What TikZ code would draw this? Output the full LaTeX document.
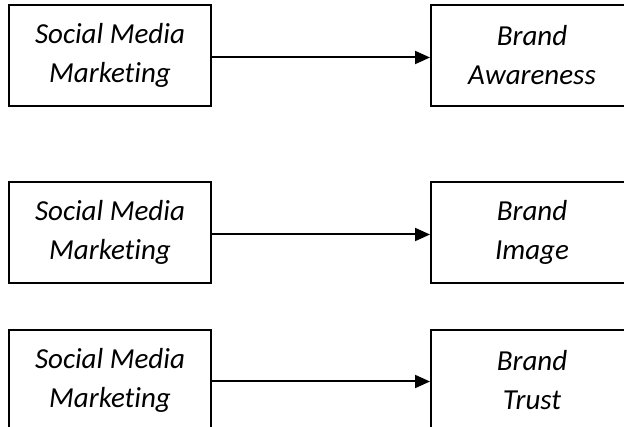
\documentclass[tikz,border=0pt]{standalone}
\usepackage{fontspec}
\setmainfont{Carlito}[Ligatures=NoCommon]
\usetikzlibrary{arrows.meta}
\begin{document}
\begin{tikzpicture}[x=1pt,y=-1pt,
  box/.style={draw, line width=2pt, minimum width=202pt, minimum height=101pt,
    inner sep=0pt, align=center, font=\fontsize{29}{39}\selectfont\itshape},
  link/.style={line width=2pt, -{Triangle[length=15pt,width=13pt]}}]
\useasboundingbox (0,0) rectangle (624,427);
\clip (0,0) rectangle (624,427);
\node[box] (l1) at (110,55.5) {Social Media\\Marketing};
\node[box] (r1) at (532,55.5) {Brand\\Awareness};
\node[box] (l2) at (110,232.5) {Social Media\\Marketing};
\node[box] (r2) at (532,232.5) {Brand\\Image};
\node[box] (l3) at (110,380.5) {Social Media\\Marketing};
\node[box] (r3) at (532,380.5) {Brand\\Trust};
\draw[link] ([yshift=-2pt]l1.east) -- ([yshift=-2pt]r1.west);
\draw[link] ([yshift=-2pt]l2.east) -- ([yshift=-2pt]r2.west);
\draw[link] ([yshift=-1pt]l3.east) -- ([yshift=-1pt]r3.west);
\end{tikzpicture}
\end{document}
